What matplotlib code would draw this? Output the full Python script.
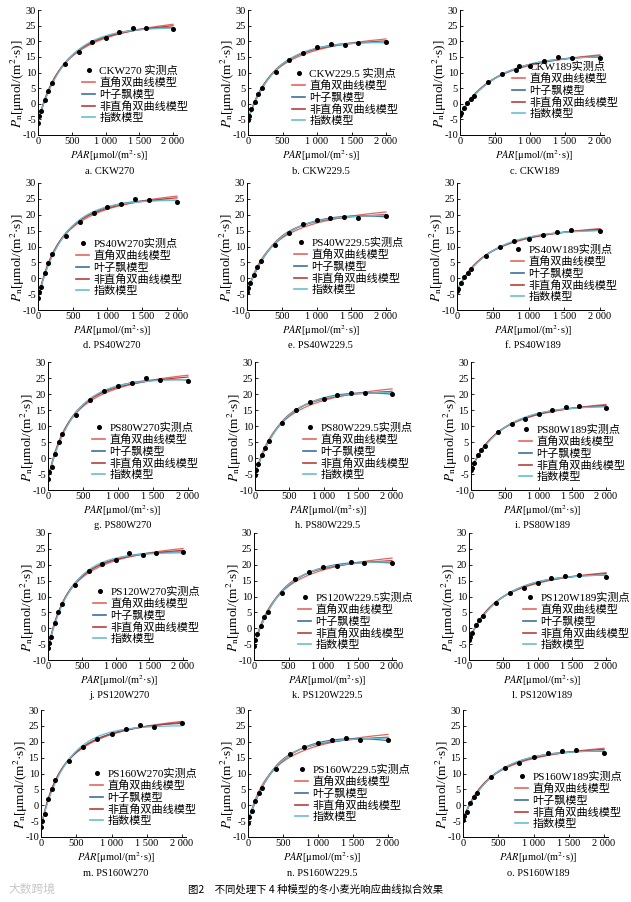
# 冬小麦光响应曲线 — 4 models fitted to measured points, 5 x 3 panels
import numpy as np
import matplotlib
matplotlib.use("Agg")
import matplotlib.pyplot as plt
from matplotlib.lines import Line2D

plt.rcParams['font.family'] = ['Liberation Serif', 'Noto Sans CJK SC']
plt.rcParams['mathtext.fontset'] = 'stix'
plt.rcParams['axes.unicode_minus'] = False

# ---- data --------------------------------------------------------------
par = [0, 20, 50, 100, 150, 200, 400, 600, 800, 1000, 1200, 1400, 1600, 2000]

names = ["CKW270", "CKW229.5", "CKW189",
         "PS40W270", "PS40W229.5", "PS40W189",
         "PS80W270", "PS80W229.5", "PS80W189",
         "PS120W270", "PS120W229.5", "PS120W189",
         "PS160W270", "PS160W229.5", "PS160W189"]
letters = list("abcdefghijklmno")
point_labels = ["CKW270 实测点", "CKW229.5 实测点", "CKW189实测点"] + \
               [n + "实测点" for n in names[3:]]

pn_ck270 = [-6.0, -4.0, -2.4, 1.2, 4.0, 6.6, 12.8, 16.6, 19.9, 21.1, 22.9, 24.1, 24.2, 24.0]
pn_ck229 = [-5.2, -4.0, -1.8, 0.6, 3.0, 5.0, 10.3, 14.0, 16.3, 18.2, 19.0, 18.8, 19.3, 19.7]
pn_ck189 = [-3.6, -2.8, -1.5, 0.2, 1.4, 2.4, 6.9, 9.5, 10.8, 12.0, 13.8, 14.9, 14.8, 14.6]
pn_40_270 = [-6.3, -4.4, -2.6, 1.6, 4.9, 7.5, 13.4, 17.8, 20.7, 22.5, 23.3, 24.9, 24.6, 24.1]
pn_40_229 = [-4.4, -3.0, -1.4, 0.9, 3.4, 5.3, 10.6, 14.4, 17.0, 18.3, 19.1, 19.3, 19.0, 19.7]
pn_40_189 = [-3.9, -3.4, -1.5, 0.4, 1.8, 2.8, 7.1, 9.8, 11.6, 12.4, 13.7, 14.6, 15.1, 14.8]
pn_80_270 = [-6.5, -4.4, -2.8, 1.4, 5.0, 7.6, 13.3, 18.0, 20.9, 22.5, 23.4, 25.0, 24.5, 24.0]
pn_80_229 = [-5.4, -3.6, -1.8, 0.8, 3.2, 5.2, 10.9, 14.9, 17.5, 18.5, 19.8, 20.3, 20.3, 19.9]
pn_80_189 = [-3.6, -3.0, -1.6, 0.8, 2.4, 3.6, 8.1, 10.7, 12.1, 13.6, 14.9, 15.9, 16.1, 15.7]
pn_120_270 = [-6.3, -4.5, -2.9, 1.6, 5.0, 7.6, 13.6, 18.0, 20.1, 21.6, 23.6, 23.1, 23.8, 24.0]
pn_120_229 = [-5.5, -3.7, -1.9, 0.8, 3.5, 5.0, 11.0, 15.4, 17.8, 19.2, 19.6, 20.8, 20.7, 20.6]
pn_120_189 = [-3.7, -2.9, -1.5, 1.0, 2.6, 4.0, 8.0, 11.1, 12.7, 14.3, 15.9, 16.6, 16.8, 16.2]
pn_160_270 = [-6.8, -5.0, -2.9, 1.9, 5.0, 8.0, 14.0, 18.5, 20.8, 22.4, 24.0, 25.2, 24.6, 25.8]
pn_160_229 = [-5.5, -3.7, -1.8, 1.3, 3.8, 5.3, 11.5, 16.1, 18.2, 19.5, 20.6, 21.3, 20.6, 20.4]
pn_160_189 = [-4.6, -3.3, -2.0, 0.8, 2.7, 3.9, 8.8, 11.7, 13.2, 15.1, 16.5, 17.0, 17.3, 16.5]

measured = [pn_ck270, pn_ck229, pn_ck189, pn_40_270, pn_40_229, pn_40_189,
            pn_80_270, pn_80_229, pn_80_189, pn_120_270, pn_120_229, pn_120_189,
            pn_160_270, pn_160_229, pn_160_189]

model_names = ["直角双曲线模型", "叶子飘模型", "非直角双曲线模型", "指数模型"]
model_colors = ["#e4665f", "#3d6f9c", "#b5403d", "#68bfcd"]


# ---- the four light-response models ------------------------------------
def rect_hyper(I, p):
    a, pm, rd = p
    if a <= 0 or pm <= 0:
        return np.full_like(I, np.nan)
    return a * I * pm / (a * I + pm) - rd


def ye_model(I, p):
    a, b, c, rd = p
    if a <= 0 or c < 0:
        return np.full_like(I, np.nan)
    return a * (1 - b * I) / (1 + c * I) * I - rd


def nonrect_hyper(I, p):
    a, pm, th, rd = p
    if a <= 0 or pm <= 0 or th <= 0.01 or th > 1:
        return np.full_like(I, np.nan)
    s = a * I + pm
    d = s ** 2 - 4 * th * a * I * pm
    if np.any(d < 0):
        return np.full_like(I, np.nan)
    return (s - np.sqrt(d)) / (2 * th) - rd


def expo(I, p):
    a, pm, rd = p
    if a <= 0 or pm <= 0:
        return np.full_like(I, np.nan)
    return pm * (1 - np.exp(-a * I / pm)) - rd


models = [(rect_hyper, [0.08, 35, 5]),
          (ye_model, [0.08, 1e-4, 2e-3, 5]),
          (nonrect_hyper, [0.06, 28, 0.5, 5]),
          (expo, [0.07, 28, 5])]


def fit(f, p0, x, y, n_iter=300):
    # plain Levenberg-Marquardt with a numeric jacobian
    p = np.array(p0, float)
    lam = 1e-3
    r = y - f(x, p)
    cost = r @ r
    for _ in range(n_iter):
        J = np.empty((len(x), len(p)))
        for j in range(len(p)):
            h = 1e-6 * max(abs(p[j]), 1e-9)
            dp = np.zeros_like(p)
            dp[j] = h
            J[:, j] = (f(x, p + dp) - f(x, p)) / h
        if not np.all(np.isfinite(J)):
            break
        A = J.T @ J
        g = J.T @ r
        improved = False
        while lam < 1e12:
            step = np.linalg.solve(A + lam * np.diag(np.diag(A) + 1e-30), g)
            pn = p + step
            rn = y - f(x, pn)
            if np.all(np.isfinite(rn)) and rn @ rn < cost:
                improved = abs(cost - rn @ rn) > 1e-12
                p, r, cost = pn, rn, rn @ rn
                lam = max(lam * 0.3, 1e-12)
                break
            lam *= 10
        if not improved:
            break
    return p


# ---- layout (pixels in the 631 x 902 image) -----------------------------
W, H = 631, 902
XMAX = 2060
rows = [(10, 135), (183, 310), (362, 490), (533, 660), (710, 837)]
cols = [(38, 173), (248, 386), (460, 600),
        (38, 177), (247, 386), (457, 600),
        (48, 188), (255, 392), (471, 606),
        (48, 183), (254, 392), (469, 606),
        (41, 182), (248, 388), (463, 604)]
leg_pos = [(82, 72), (292, 75), (512, 68),
           (76, 245), (294, 244), (511, 251),
           (92, 429), (303, 429), (519, 431),
           (93, 593), (298, 599), (523, 599),
           (90, 775), (295, 771), (515, 778)]

fig = plt.figure(figsize=(W / 100, H / 100), dpi=100)
I = np.array(par, float)
I_line = np.linspace(0, 2000, 300)
xfont = ['Liberation Serif', 'Noto Sans CJK SC']

for k in range(15):
    x0, x2 = cols[k]
    ytop, ybot = rows[k // 3]
    wpx = (x2 - x0) * XMAX / 2000
    hpx = ybot - ytop
    ax = fig.add_axes([x0 / W, 1 - ybot / H, wpx / W, hpx / H])
    y = np.array(measured[k], float)

    for (f, p0), c in zip(models, model_colors):
        p = fit(f, p0, I, y)
        ax.plot(I_line, f(I_line, p), color=c, lw=0.9, zorder=2)
    ax.plot(I, y, 'o', color='black', ms=2.6, zorder=3)

    ax.set_xlim(0, XMAX)
    ax.set_ylim(-10, 30)
    ax.set_xticks([0, 500, 1000, 1500, 2000])
    ax.set_xticklabels(["0", "500", "1 000", "1 500", "2 000"])
    ax.set_yticks(range(-10, 31, 5))
    ax.tick_params(direction='in', length=2.5, width=0.6, labelsize=7.5, pad=1.5)
    for s in ['top', 'right']:
        ax.spines[s].set_visible(False)
    for s in ['left', 'bottom']:
        ax.spines[s].set_linewidth(0.7)

    xc = (x2 - x0) / 2 / wpx + 0.03
    ax.set_ylabel(r'$P_{\rm n}$[μmol/(m$^2$·s)]', fontsize=9.5, va='center')
    ax.yaxis.set_label_coords(-20 / wpx, 0.41)
    ax.set_xlabel(r'$PAR$[μmol/(m$^2$·s)]', fontsize=7.5, va='center')
    ax.xaxis.set_label_coords(xc, -21 / hpx)
    ax.text(xc, -36 / hpx, f"{letters[k]}. {names[k]}",
            transform=ax.transAxes, ha='center', va='center', fontsize=7.5)

    handles = [Line2D([], [], ls='none', marker='o', color='black', ms=2.6)]
    handles += [Line2D([], [], color=c, lw=1.2) for c in model_colors]
    lx, ly = leg_pos[k]
    fig.legend(handles, [point_labels[k]] + model_names,
               loc='upper left', bbox_to_anchor=(lx / W, 1 - (ly - 6.5) / H),
               frameon=False, borderpad=0, borderaxespad=0,
               handlelength=1.2, handletextpad=0.35, labelspacing=0.12,
               prop={'family': xfont, 'size': 8})

fig.text(188 / W, 1 - 889 / H, "图2　不同处理下 4 种模型的冬小麦光响应曲线拟合效果",
         family='Noto Sans CJK SC', fontsize=7.5, va='center', ha='left')
fig.text(8 / W, 1 - 889 / H, "大数跨境", family='Noto Sans CJK SC',
         fontsize=8.5, color='#c8c8c8', va='center', ha='left')

fig.savefig("out.png", dpi=100)
